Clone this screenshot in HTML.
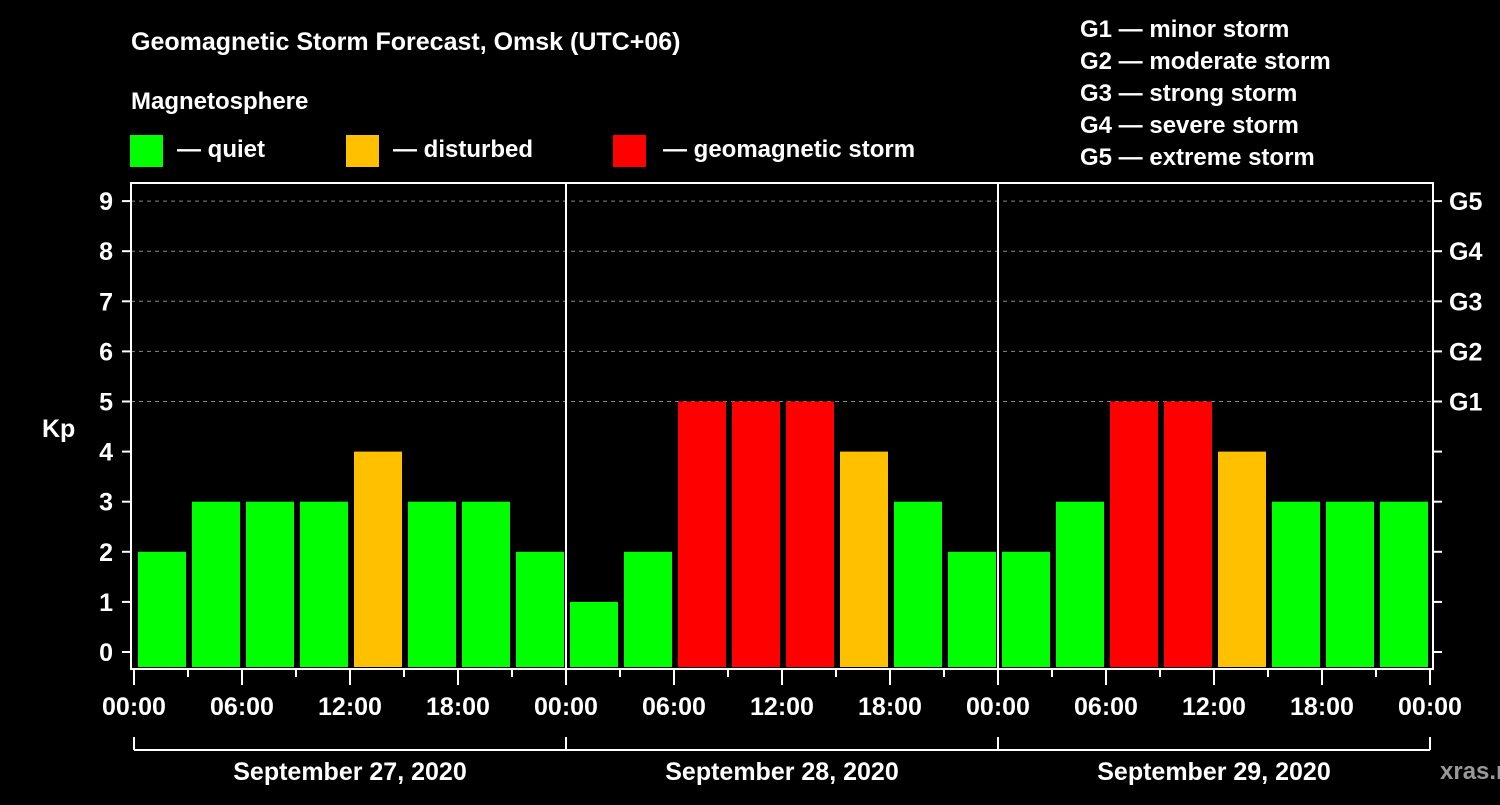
<!DOCTYPE html>
<html><head><meta charset="utf-8"><style>
body{margin:0;background:#000;width:1500px;height:800px;overflow:hidden}
svg text{font-family:"Liberation Sans",sans-serif;font-weight:bold;fill:#fff}
</style></head><body>
<svg id="c" width="1500" height="800" xmlns="http://www.w3.org/2000/svg">
<text x="131" y="50" font-size="25">Geomagnetic Storm Forecast, Omsk (UTC+06)</text>
<text x="131" y="109" font-size="24">Magnetosphere</text>
<rect x="130" y="135" width="33" height="32" fill="#00ff00"/>
<text x="177" y="157" font-size="24">— quiet</text>
<rect x="346" y="135" width="33" height="32" fill="#ffc000"/>
<text x="393" y="157" font-size="24">— disturbed</text>
<rect x="613" y="135" width="33" height="32" fill="#ff0000"/>
<text x="663" y="157" font-size="24">— geomagnetic storm</text>
<g font-size="24">
<text x="1080" y="37">G1 — minor storm</text>
<text x="1080" y="69">G2 — moderate storm</text>
<text x="1080" y="101">G3 — strong storm</text>
<text x="1080" y="133">G4 — severe storm</text>
<text x="1080" y="165">G5 — extreme storm</text>
</g>
<text x="42" y="437" font-size="25">Kp</text>
<text x="1440" y="779" font-size="24" style="fill:#999">xras.ru</text>
<g id="plot"></g>
</svg>
<script>
const values=[2,3,3,3,4,3,3,2, 1,2,5,5,5,4,3,2, 2,3,5,5,4,3,3,3];
const yTicks=[0,1,2,3,4,5,6,7,8,9];
const gLabels=["G1","G2","G3","G4","G5"];
const xTickLabels=["00:00","06:00","12:00","18:00"];
const days=["September 27, 2020","September 28, 2020","September 29, 2020"];
const L=131,R=1433,T=183,B=669,X0=134,SLOT=54;
const y=v=>652-50.1*v;
const x=i=>X0+SLOT*i;
const ns="http://www.w3.org/2000/svg";
const g=document.getElementById('plot');
function mk(t,a){const e=document.createElementNS(ns,t);for(const k in a)e.setAttribute(k,a[k]);g.appendChild(e);return e;}
function col(v){return v>=5?"#ff0000":v>=4?"#ffc000":"#00ff00";}
// grid
[5,6,7,8,9].forEach(v=>{const e=mk('line',{x1:L,x2:R,y1:y(v),y2:y(v),stroke:'#888','stroke-width':1,'stroke-dasharray':'4 4'});

});
// bars
values.forEach((v,i)=>{const e=mk('rect',{x:x(i)+4,y:y(v),width:48,height:667-y(v),fill:col(v)});

});
// day separators
[1,2].forEach(d=>{const e=mk('line',{x1:x(8*d),x2:x(8*d),y1:T,y2:B,stroke:'#fff','stroke-width':2});

});
// frame
const f=mk('rect',{x:L,y:T,width:R-L,height:B-T,fill:'none',stroke:'#fff','stroke-width':2});


// y ticks
yTicks.forEach(v=>{mk('line',{x1:122,x2:L,y1:y(v),y2:y(v),stroke:'#fff','stroke-width':2});
mk('line',{x1:R,x2:R+9,y1:y(v),y2:y(v),stroke:'#fff','stroke-width':2});
const t=mk('text',{x:113,y:y(v)+9,'font-size':25,'text-anchor':'end'});t.textContent=v;

});
gLabels.forEach((s,i)=>{const t=mk('text',{x:1449,y:y(i+5)+9,'font-size':25});t.textContent=s;

});
// x ticks
for(let i=0;i<=24;i++){const major=i%2==0;mk('line',{x1:x(i),x2:x(i),y1:B,y2:major?685:677,stroke:'#fff','stroke-width':2});
if(major){const t=mk('text',{x:x(i),y:715,'font-size':25,'text-anchor':'middle'});t.textContent=i==24?"00:00":xTickLabels[(i/2)%4];

}}
// date bracket
mk('line',{x1:x(0),x2:x(24),y1:750,y2:750,stroke:'#fff','stroke-width':2});
[0,8,16,24].forEach(i=>mk('line',{x1:x(i),x2:x(i),y1:737,y2:750,stroke:'#fff','stroke-width':2}));
days.forEach((d,k)=>{const t=mk('text',{x:x(8*k+4),y:780,'font-size':25,'text-anchor':'middle'});t.textContent=d;

});
</script>
</body></html>
